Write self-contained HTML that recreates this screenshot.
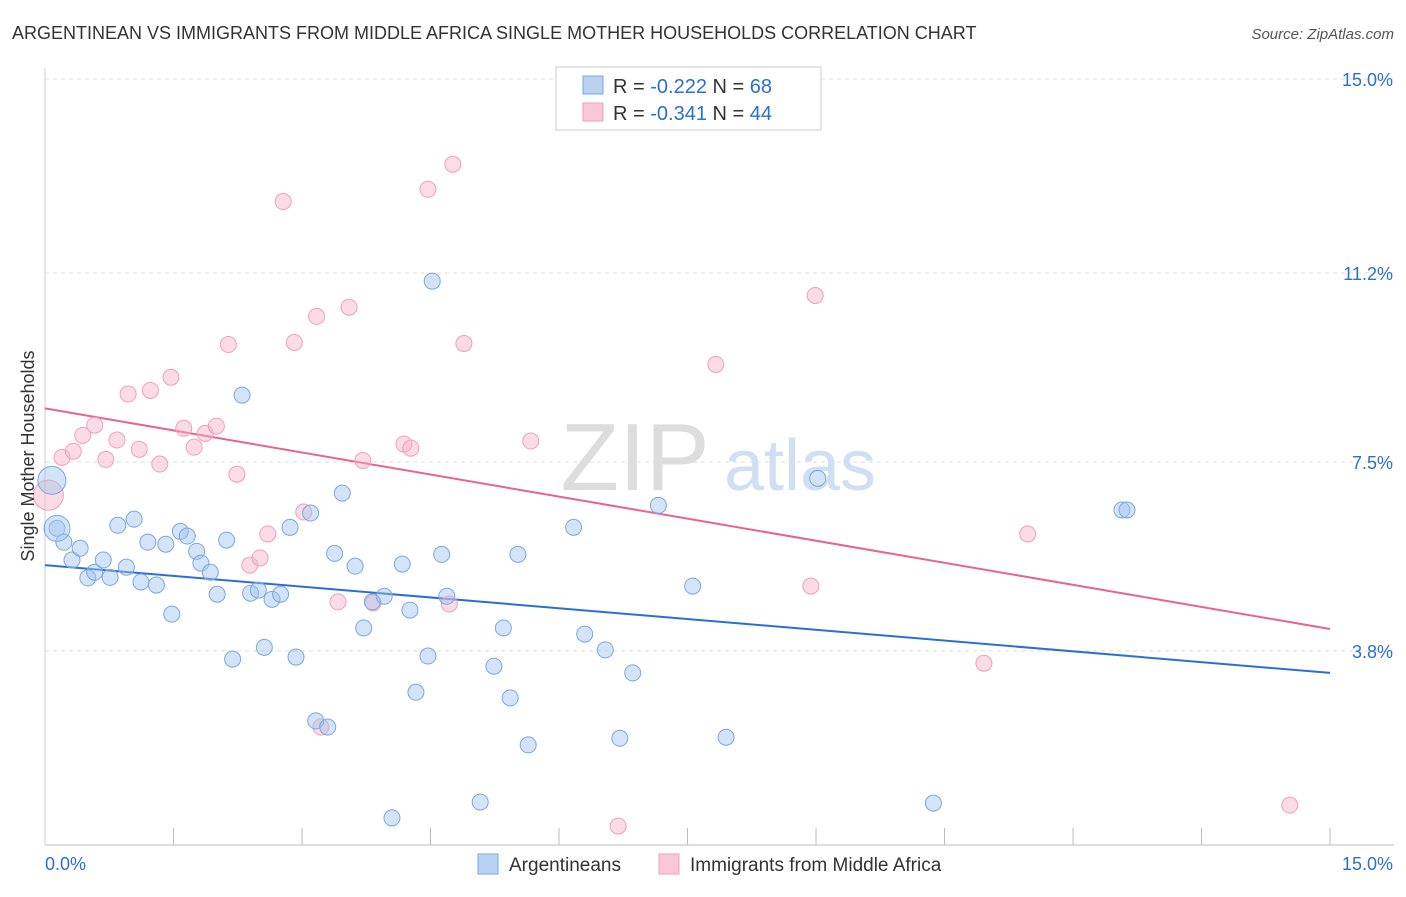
<!DOCTYPE html>
<html><head><meta charset="utf-8"><style>
body{margin:0;background:#fff;font-family:"Liberation Sans",sans-serif;}
svg text{font-family:"Liberation Sans",sans-serif;}
</style></head><body>
<svg id="chart" width="1406" height="892">
<text x="12" y="39" font-size="18" fill="#333">ARGENTINEAN VS IMMIGRANTS FROM MIDDLE AFRICA SINGLE MOTHER HOUSEHOLDS CORRELATION CHART</text>
<text x="1394" y="39" font-size="15" fill="#555" text-anchor="end" font-style="italic">Source: ZipAtlas.com</text>
<g><text x="635" y="490" font-size="96" fill="#ddd" text-anchor="middle" font-family="Liberation Serif">ZIP</text><text x="800" y="490" font-size="72" fill="#cfe0f4" text-anchor="middle">atlas</text></g>
<g id="grid"></g><g id="axes"></g><g id="lines"></g><g id="pts"></g>
<text transform="translate(34,456) rotate(-90)" font-size="18" fill="#333" text-anchor="middle">Single Mother Households</text>
<g>
<rect x="556" y="67" width="265" height="63" fill="#fff" stroke="#ccc"/>
<rect x="583" y="76" width="20" height="18" fill="#b8d2f4" stroke="#7aa7e0"/>
<rect x="583" y="103" width="20" height="18" fill="#f8c6d6" stroke="#f0a0b8"/>
<text x="613" y="93" font-size="20" fill="#333">R = <tspan fill="#2a6fd6">-0.222</tspan>   N = <tspan fill="#2a6fd6">68</tspan></text>
<text x="613" y="120" font-size="20" fill="#333">R = <tspan fill="#2a6fd6">-0.341</tspan>   N = <tspan fill="#2a6fd6">44</tspan></text>
</g>
<g>
<rect x="478" y="854" width="20" height="20" fill="#b8d2f4" stroke="#7aa7e0"/>
<text x="509" y="871" font-size="19" fill="#333">Argentineans</text>
<rect x="659" y="854" width="20" height="20" fill="#f8c6d6" stroke="#f0a0b8"/>
<text x="690" y="871" font-size="19" fill="#333">Immigrants from Middle Africa</text>
</g>
</svg>
<script>
const yTicks=[3.8,7.5,11.2,15.0];
const xTickLabels=["0.0%","15.0%"];
const blueX=[0.08,0.14,0.22,0.315,0.41,0.50,0.58,0.68,0.76,0.85,0.95,1.04,1.12,1.20,1.30,1.41,1.48,1.58,1.66,1.77,1.82,1.93,2.01,2.12,2.19,2.30,2.40,2.49,2.56,2.65,2.75,2.86,2.93,3.10,3.16,3.30,3.38,3.47,3.62,3.72,3.82,3.96,4.17,4.26,4.33,4.47,4.52,4.63,4.69,5.08,5.24,5.35,5.43,5.52,5.64,6.17,6.30,6.54,6.71,6.86,7.16,7.56,7.95,9.02,10.37,12.57,12.63,4.05];
const blueY=[7.14,6.20,5.93,5.58,5.81,5.23,5.34,5.58,5.24,6.26,5.44,6.38,5.15,5.93,5.09,5.89,4.52,6.14,6.05,5.75,5.52,5.34,4.91,5.97,3.64,8.81,4.93,4.99,3.87,4.81,4.91,6.22,3.68,6.50,2.43,2.31,5.71,6.89,5.46,4.25,4.76,4.87,5.50,4.60,2.99,3.70,11.04,5.69,4.87,0.84,3.50,4.25,2.88,5.69,1.96,6.22,4.13,3.82,2.09,3.37,6.65,5.07,2.11,7.18,0.82,6.56,6.56,0.53];
const pinkX=[0.04,0.20,0.33,0.44,0.58,0.71,0.84,0.97,1.10,1.23,1.34,1.47,1.62,1.74,1.87,2.00,2.14,2.24,2.39,2.51,2.60,2.78,2.91,3.02,3.17,3.22,3.42,3.55,3.71,3.83,4.19,4.27,4.47,4.72,4.76,4.89,5.67,6.69,7.83,8.94,8.99,10.96,11.47,14.53];
const pinkY=[6.85,7.59,7.71,8.02,8.22,7.55,7.93,8.83,7.75,8.90,7.46,9.16,8.16,7.79,8.06,8.20,9.80,7.26,5.48,5.62,6.09,12.60,9.84,6.52,10.35,2.31,4.76,10.53,7.53,4.74,7.85,7.77,12.84,4.72,13.33,9.82,7.91,0.37,9.41,5.07,10.76,3.56,6.09,0.78];
const blueTrend=[5.48,3.37];
const pinkTrend=[8.55,4.23];
const NS="http://www.w3.org/2000/svg";
const sx=v=>45+v*85.67, sy=v=>845-v*51.07;
function mk(tag,attrs,parent){const e=document.createElementNS(NS,tag);for(const k in attrs)e.setAttribute(k,attrs[k]);document.getElementById(parent).appendChild(e);return e;}
yTicks.forEach(t=>{
 const g=mk('line',{x1:45,x2:1394,y1:sy(t),y2:sy(t),stroke:'#ddd','stroke-dasharray':'4,4'},'grid');
 
 
 const l=mk('text',{x:1393,y:sy(t)+7,'font-size':18,fill:'#2a6fd6','text-anchor':'end'},'grid');
 l.textContent=t.toFixed(1)+'%';
 
 
});
const ax=mk('line',{x1:45,x2:1394,y1:845,y2:845,stroke:'#bbb'},'axes');


const ay=mk('line',{x1:45,x2:45,y1:68,y2:845,stroke:'#ccc'},'axes');


for(let i=1;i<=10;i++){
 const t=mk('line',{x1:sx(i*1.5),x2:sx(i*1.5),y1:828,y2:845,stroke:'#bbb'},'axes');
 
 
}
const xl0=mk('text',{x:45,y:870,'font-size':18,fill:'#2a6fd6'},'axes');
xl0.textContent=xTickLabels[0];


const xl1=mk('text',{x:1393,y:870,'font-size':18,fill:'#2a6fd6','text-anchor':'end'},'axes');
xl1.textContent=xTickLabels[1];


function pts(xs,ys,fill,stroke,name){
 xs.forEach((x,i)=>{
  const r=(i===0)?(name==='pink-point'?15:14):8;
  const c=mk('circle',{cx:sx(x),cy:sy(ys[i]),r:r,fill:fill,stroke:stroke,'stroke-width':1},'pts');
  
  
 });
}
pts(pinkX,pinkY,'rgba(246,178,200,0.45)','#f0a0b8','pink-point');
pts(blueX,blueY,'rgba(160,196,240,0.45)','#7aa7e0','blue-point');
// second large blue point
const lb=mk('circle',{cx:sx(blueX[1]),cy:sy(blueY[1]),r:13,fill:'rgba(160,196,240,0.45)',stroke:'#7aa7e0'},'pts');


const bl=mk('line',{x1:sx(0),y1:sy(blueTrend[0]),x2:sx(15),y2:sy(blueTrend[1]),stroke:'#2a6fd6','stroke-width':2},'lines');


const pl=mk('line',{x1:sx(0),y1:sy(pinkTrend[0]),x2:sx(15),y2:sy(pinkTrend[1]),stroke:'#e8638e','stroke-width':2},'lines');


</script>
</body></html>
